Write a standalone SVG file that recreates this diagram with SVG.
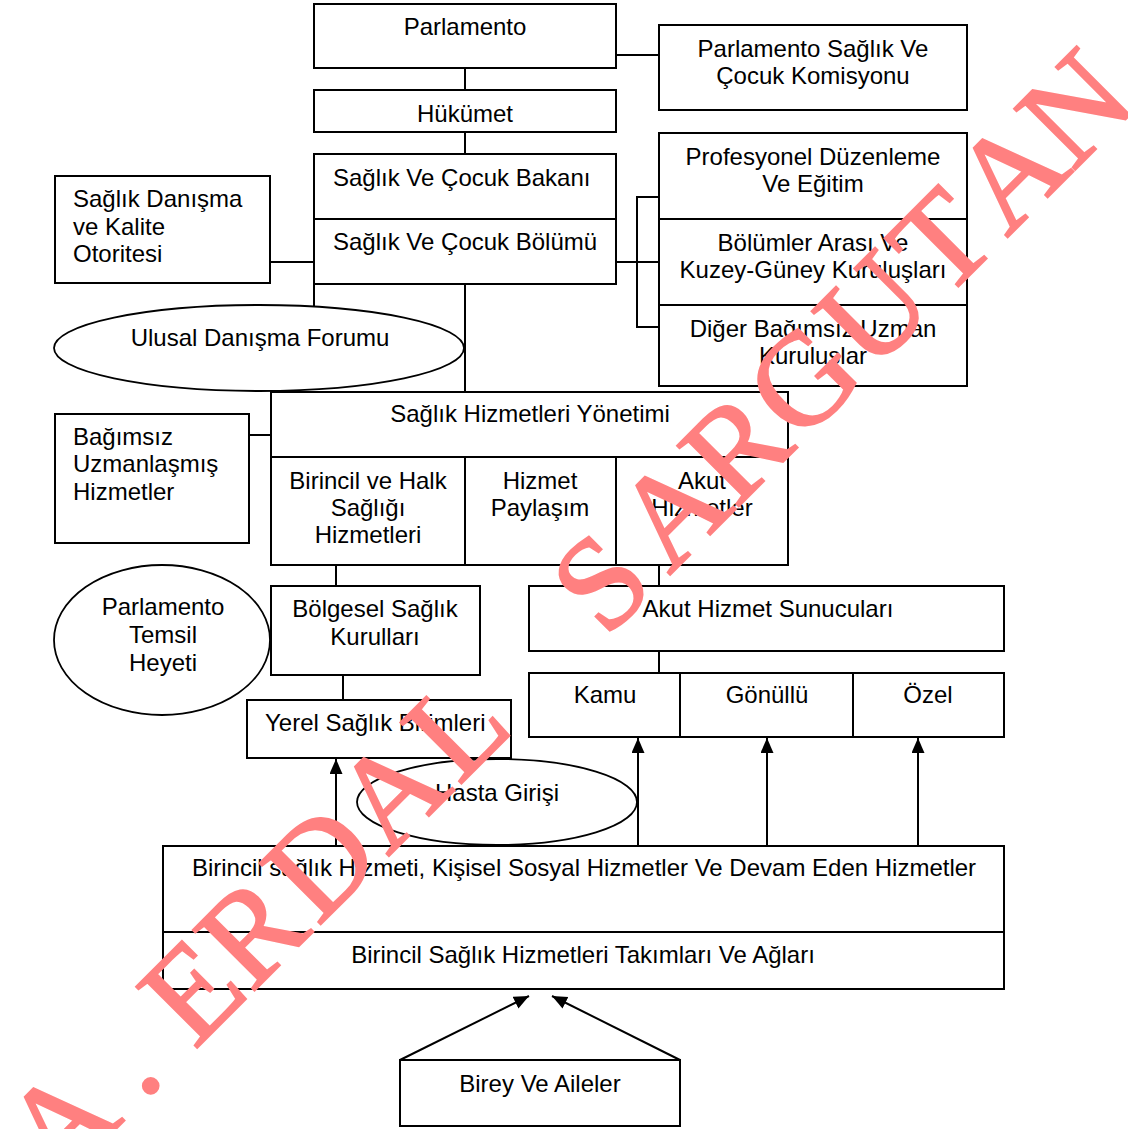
<svg xmlns="http://www.w3.org/2000/svg" width="1128" height="1129" viewBox="0 0 1128 1129">
<style>
.b{fill:#fff;stroke:#000;stroke-width:2}
.e{fill:#fff;stroke:#000;stroke-width:1.8}
.l{fill:none;stroke:#000;stroke-width:2}
.t{font-family:"Liberation Sans",Arial,sans-serif;font-size:24px;fill:#000}
.c{text-anchor:middle}
.wm{font-family:"Liberation Serif","Times New Roman",serif;font-size:132px;fill:#ff8080;stroke:#ff8080;stroke-width:2}
</style>
<defs>
<marker id="ah" markerUnits="userSpaceOnUse" markerWidth="16" markerHeight="14" refX="15" refY="6.5" orient="auto">
<path d="M0,0 L15,6.5 L0,13 Z" fill="#000"/>
</marker>
</defs>
<rect width="1128" height="1129" fill="#fff"/>
<g id="connectors">
<line class="l" x1="465" y1="68" x2="465" y2="90"/>
<line class="l" x1="616" y1="55" x2="663" y2="55"/>
<line class="l" x1="465" y1="132" x2="465" y2="154"/>
<line class="l" x1="270" y1="262" x2="314" y2="262"/>
<line class="l" x1="616" y1="262" x2="637" y2="262"/>
<polyline class="l" points="659,197 637,197 637,327 659,327"/>
<line class="l" x1="637" y1="262" x2="659" y2="262"/>
<line class="l" x1="314" y1="284" x2="314" y2="310"/>
<line class="l" x1="465" y1="284" x2="465" y2="392"/>
<line class="l" x1="249" y1="435" x2="271" y2="435"/>
<line class="l" x1="336" y1="565" x2="336" y2="586"/>
<line class="l" x1="343" y1="675" x2="343" y2="700"/>
<line class="l" x1="659" y1="565" x2="659" y2="586"/>
<line class="l" x1="659" y1="651" x2="659" y2="673"/>
<line class="l" x1="336" y1="846" x2="336" y2="759" marker-end="url(#ah)"/>
<line class="l" x1="638" y1="846" x2="638" y2="738" marker-end="url(#ah)"/>
<line class="l" x1="767" y1="846" x2="767" y2="738" marker-end="url(#ah)"/>
<line class="l" x1="918" y1="846" x2="918" y2="738" marker-end="url(#ah)"/>
<line class="l" x1="400" y1="1060" x2="529" y2="996" marker-end="url(#ah)"/>
<line class="l" x1="680" y1="1060" x2="552" y2="996" marker-end="url(#ah)"/>
</g>
<g id="parlamento"><rect class="b" x="314" y="4" width="302" height="64"/><text class="t c" x="465" y="35">Parlamento</text></g>
<g id="komisyon"><rect class="b" x="659" y="25" width="308" height="85"/><text class="t c" x="813" y="57">Parlamento Sağlık Ve</text><text class="t c" x="813" y="84">Çocuk Komisyonu</text></g>
<g id="hukumet"><rect class="b" x="314" y="90" width="302" height="42"/><text class="t c" x="465" y="122">Hükümet</text></g>
<g id="bakanlik"><rect class="b" x="314" y="154" width="302" height="130"/><line class="l" x1="314" y1="219" x2="616" y2="219"/><text class="t" x="333" y="186">Sağlık Ve Çocuk Bakanı</text><text class="t" x="333" y="250">Sağlık Ve Çocuk Bölümü</text></g>
<g id="danisma"><rect class="b" x="55" y="176" width="215" height="107"/><text class="t" x="73" y="207">Sağlık Danışma</text><text class="t" x="73" y="235">ve Kalite</text><text class="t" x="73" y="262">Otoritesi</text></g>
<g id="kuruluslar"><rect class="b" x="659" y="133" width="308" height="253"/><line class="l" x1="659" y1="219" x2="967" y2="219"/><line class="l" x1="659" y1="305" x2="967" y2="305"/>
<text class="t c" x="813" y="165">Profesyonel Düzenleme</text><text class="t c" x="813" y="192">Ve Eğitim</text>
<text class="t c" x="813" y="251">Bölümler Arası Ve</text><text class="t c" x="813" y="278">Kuzey-Güney Kuruluşları</text>
<text class="t c" x="813" y="337">Diğer Bağımsız Uzman</text><text class="t c" x="813" y="364">Kuruluslar</text></g>
<g id="forum"><ellipse class="e" cx="259" cy="348" rx="205" ry="43"/><text class="t c" x="260" y="346">Ulusal Danışma Forumu</text></g>
<g id="yonetim"><rect class="b" x="271" y="392" width="517" height="173"/><line class="l" x1="271" y1="457" x2="788" y2="457"/><line class="l" x1="465" y1="457" x2="465" y2="565"/><line class="l" x1="616" y1="457" x2="616" y2="565"/>
<text class="t c" x="530" y="422">Sağlık Hizmetleri Yönetimi</text>
<text class="t c" x="368" y="489">Birincil ve Halk</text><text class="t c" x="368" y="516">Sağlığı</text><text class="t c" x="368" y="543">Hizmetleri</text>
<text class="t c" x="540" y="489">Hizmet</text><text class="t c" x="540" y="516">Paylaşım</text>
<text class="t c" x="702" y="489">Akut</text><text class="t c" x="702" y="516">Hizmetler</text></g>
<g id="bagimsiz"><rect class="b" x="55" y="414" width="194" height="129"/><text class="t" x="73" y="445">Bağımsız</text><text class="t" x="73" y="472">Uzmanlaşmış</text><text class="t" x="73" y="500">Hizmetler</text></g>
<g id="temsil"><ellipse class="e" cx="162" cy="640" rx="108" ry="75"/><text class="t c" x="163" y="615">Parlamento</text><text class="t c" x="163" y="643">Temsil</text><text class="t c" x="163" y="671">Heyeti</text></g>
<g id="bolgesel"><rect class="b" x="271" y="586" width="209" height="89"/><text class="t c" x="375" y="617">Bölgesel Sağlık</text><text class="t c" x="375" y="645">Kurulları</text></g>
<g id="yerel"><rect class="b" x="247" y="700" width="264" height="58"/><text class="t" x="265" y="731">Yerel Sağlık Birimleri</text></g>
<g id="sunucular"><rect class="b" x="529" y="586" width="475" height="65"/><text class="t c" x="768" y="617">Akut Hizmet Sunucuları</text></g>
<g id="sektorler"><rect class="b" x="529" y="673" width="475" height="64"/><line class="l" x1="680" y1="673" x2="680" y2="737"/><line class="l" x1="853" y1="673" x2="853" y2="737"/>
<text class="t c" x="605" y="703">Kamu</text><text class="t c" x="767" y="703">Gönüllü</text><text class="t c" x="928" y="703">Özel</text></g>
<g id="hasta"><ellipse class="e" cx="497" cy="802" rx="140" ry="43"/><text class="t c" x="497" y="801">Hasta Girişi</text></g>
<g id="birincil"><rect class="b" x="163" y="846" width="841" height="143"/><line class="l" x1="163" y1="932" x2="1004" y2="932"/>
<text class="t c" x="584" y="876">Birincil sağlık Hizmeti, Kişisel Sosyal Hizmetler Ve Devam Eden Hizmetler</text>
<text class="t c" x="583" y="963">Birincil Sağlık Hizmetleri Takımları Ve Ağları</text></g>
<g id="birey"><rect class="b" x="400" y="1060" width="280" height="66"/><text class="t c" x="540" y="1092">Birey Ve Aileler</text></g>
<text class="wm" transform="translate(155,1090) rotate(-45)" x="-137.7 -16.5 20 55.7 136 230.4 329.4 429.7 520 637.3 727.4 821 912.4 1012.4 1115.7 1204.4 1297.4" y="0">A. ERDAL SARGUTAN</text>
</svg>
